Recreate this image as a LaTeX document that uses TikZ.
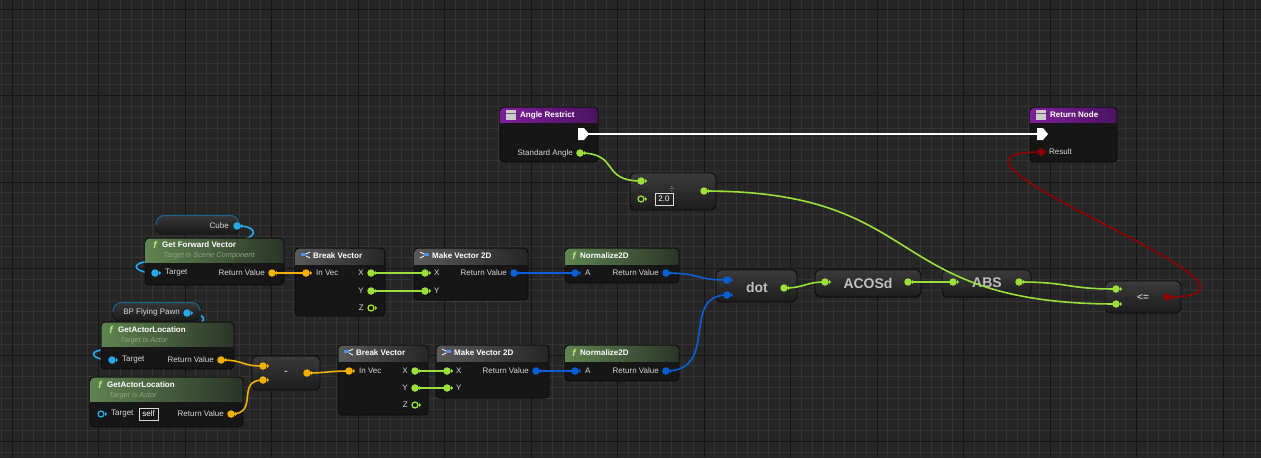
\documentclass[tikz,border=0pt]{standalone}
\usepackage{fontspec}
\setmainfont{Liberation Sans}
\usetikzlibrary{calc}
\definecolor{bg}{HTML}{262626}
\definecolor{gminor}{HTML}{343434}
\definecolor{gmajor}{HTML}{151515}
\definecolor{body}{HTML}{161616}
\definecolor{edge}{HTML}{0A0A0A}
\definecolor{pgreen}{HTML}{9BE03A}
\definecolor{pblue}{HTML}{0B5FD6}
\definecolor{porange}{HTML}{F2B100}
\definecolor{pred}{HTML}{8E0000}
\definecolor{pcyan}{HTML}{29A8E8}
\definecolor{txt}{HTML}{D8D8D8}
\definecolor{sub}{HTML}{8DA37F}
\definecolor{grL}{HTML}{5F8451}
\definecolor{grR}{HTML}{2B3528}
\definecolor{puL}{HTML}{7E1F99}
\definecolor{puR}{HTML}{4A1260}
\tikzset{
  pinf/.style={circle,fill=#1,inner sep=0pt,minimum size=7.5pt},
  pinh/.style={circle,draw=#1,line width=1.3pt,inner sep=0pt,minimum size=6pt},
  wire/.style={draw=#1,line width=1.6pt},
  lbl/.style={text=txt,font=\fontsize{8}{9}\selectfont,inner sep=0pt},
  ttl/.style={text=white,font=\bfseries\fontsize{8}{9}\selectfont,inner sep=0pt,anchor=west},
  subt/.style={text=sub,font=\itshape\fontsize{7.4}{8}\selectfont,inner sep=0pt,anchor=west},
  big/.style={text=white!75!black,font=\bfseries\fontsize{14}{15}\selectfont,inner sep=0pt},
}
\newcommand\bpbox[4]{\fill[body,draw=edge,line width=0.8pt,rounded corners=4pt] (#1,#2) rectangle (#3,#4);}
\newcommand\bphead[6]{\shade[left color=#5,right color=#6,rounded corners=4pt] (#1+0.5,#2+0.5) rectangle (#3-0.5,#4+4);
  \fill[body] (#1+0.5,#4) rectangle (#3-0.5,#4+4.5);}
\newcommand\cbox[4]{\shade[top color=white!23!black,bottom color=white!11!black,draw=edge,line width=0.8pt,rounded corners=5pt] (#1,#2) rectangle (#3,#4);}
\newcommand\pin[4]{\node[pinf=#4] (#1) at (#2,#3) {};\fill[#4] (#2+4,#3-2.2) -- (#2+6.2,#3) -- (#2+4,#3+2.2) -- cycle;}
\newcommand\hpin[4]{\node[pinh=#4] (#1) at (#2,#3) {};\fill[#4] (#2+4,#3-2.2) -- (#2+6.2,#3) -- (#2+4,#3+2.2) -- cycle;}
\newcommand\fsym[2]{\node[text=pgreen!70!white,font=\itshape\bfseries\fontsize{10}{10}\selectfont,inner sep=0pt] at (#1,#2) {f};}
\begin{document}
\begin{tikzpicture}[x=1pt,y=-1pt]
\fill[bg] (0,0) rectangle (1261,458);
\useasboundingbox (0,0) rectangle (1261,458);
\foreach \i in {-1,...,116} {\draw[gminor,line width=0.8pt] (12+\i*10.8125,0) -- (12+\i*10.8125,458);}
\foreach \i in {-1,...,42} {\draw[gminor,line width=0.8pt] (0,9+\i*10.8125) -- (1261,9+\i*10.8125);}
\foreach \i in {0,...,14} {\draw[gmajor,line width=0.9pt] (12+\i*86.5,0) -- (12+\i*86.5,458);}
\foreach \i in {0,...,5} {\draw[gmajor,line width=0.9pt] (0,9+\i*86.5) -- (1261,9+\i*86.5);}

\coordinate (cubeP) at (237,226);
\coordinate (gfvT) at (155,273);
\coordinate (pawnP) at (187,313);
\coordinate (gal1T) at (112,360);
\draw[wire=pcyan] (cubeP) .. controls (262,226) and (255,240) .. (238,240);
\draw[wire=pcyan] (145,262) .. controls (130,264) and (135,273) .. (gfvT);
\draw[wire=pcyan] (pawnP) .. controls (212,313) and (205,326) .. (190,326);
\draw[wire=pcyan] (101,350) .. controls (88,352) and (92,360) .. (gal1T);

% Angle Restrict
\bpbox{500}{107}{598}{162}\bphead{500}{107}{598}{123}{puL}{puR}
\fill[white!80!black] (506,110) rectangle (516,120);\draw[black!60] (506,113)--(516,113);
\node[ttl] (arT) at (520,115) {Angle Restrict};
\fill[white] (578,128) -- (584,128) -- (589,134) -- (584,140) -- (578,140) -- cycle;
\coordinate (arExec) at (586,134);
\node[lbl,anchor=east] (arSA) at (573,153) {Standard Angle};
% Return Node
\bpbox{1030}{107}{1117}{162}\bphead{1030}{107}{1117}{123}{puL}{puR}
\fill[white!80!black] (1036,110) rectangle (1046,120);\draw[black!60] (1036,113)--(1046,113);
\node[ttl] (rnT) at (1050,115) {Return Node};
\fill[white] (1037,128) -- (1043,128) -- (1048,134) -- (1043,140) -- (1037,140) -- cycle;
\coordinate (rnExec) at (1038,134);
\node[lbl,anchor=west] (rnR) at (1049,152) {Result};
% divide
\cbox{630}{173}{716}{210}
\draw[white!85!black,line width=0.7pt] (655,193) rectangle (673,205);
\node[lbl,text=white] (two) at (664,199) {2.0};
\node[text=white!70!black,font=\fontsize{9}{9}\selectfont,inner sep=0pt] (divs) at (672,189) {$\div$};
% Cube
\shade[top color=white!22!black,bottom color=white!10!black,draw=edge,rounded corners=8pt] (155,215) rectangle (240,234);
\draw[pcyan!60!black,line width=1pt,rounded corners=8pt] (156,225) -- (156,215.5) -- (239,215.5) -- (239,222);
\node[lbl,anchor=east] (cubeL) at (229,226) {Cube};
% BP Flying Pawn
\shade[top color=white!22!black,bottom color=white!10!black,draw=edge,rounded corners=8pt] (112,302) rectangle (201,321);
\draw[pcyan!60!black,line width=1pt,rounded corners=8pt] (113,312) -- (113,302.5) -- (200,302.5) -- (200,309);
\node[lbl,anchor=east] (pawnL) at (180,312) {BP Flying Pawn};
% Get Forward Vector
\bpbox{145}{238}{284}{285}\bphead{145}{238}{284}{263}{grL}{grR}
\fsym{155}{245}\node[ttl] (gfvN) at (162,245) {Get Forward Vector};
\node[subt] (gfvS) at (163,256) {Target is Scene Component};
\node[lbl,anchor=west] (gfvTL) at (165,273) {Target};
\node[lbl,anchor=east] (gfvRL) at (265,273) {Return Value};
% Break Vector 1
\bpbox{295}{248}{385}{316}\bphead{295}{248}{385}{265}{white!35!black}{white!15!black}
\fill[pblue!70!white] (301,253) rectangle (306,256);\draw[white,line width=0.7pt] (306,254)--(310,252) (306,256)--(310,258);
\node[ttl] (bv1N) at (313,256) {Break Vector};
\node[lbl,anchor=west] (bv1I) at (316,273) {In Vec};
\node[lbl,anchor=east] (bv1X) at (364,273) {X};
\node[lbl,anchor=east] (bv1Y) at (364,291) {Y};
\node[lbl,anchor=east] (bv1Z) at (364,308) {Z};
% Make Vector 2D 1
\bpbox{414}{248}{528}{300}\bphead{414}{248}{528}{265}{white!35!black}{white!15!black}
\fill[pblue!70!white] (424,253) rectangle (429,256);\draw[white,line width=0.7pt] (420,252)--(424,254) (420,258)--(424,256);
\node[ttl] (mv1N) at (432,256) {Make Vector 2D};
\node[lbl,anchor=west] (mv1XL) at (434,273) {X};
\node[lbl,anchor=west] (mv1YL) at (434,291) {Y};
\node[lbl,anchor=east] (mv1R) at (507,273) {Return Value};
% Normalize2D 1
\bpbox{565}{248}{679}{283}\bphead{565}{248}{679}{265}{grL}{grR}
\fsym{574}{256}\node[ttl] (n1N) at (580,256) {Normalize2D};
\node[lbl,anchor=west] (n1A) at (585,273) {A};
\node[lbl,anchor=east] (n1R) at (659,273) {Return Value};
% GetActorLocation 1
\bpbox{101}{322}{234}{369}\bphead{101}{322}{234}{347}{grL}{grR}
\fsym{111}{330}\node[ttl] (g1N) at (118,330) {GetActorLocation};
\node[subt] (g1S) at (120,341) {Target is Actor};
\node[lbl,anchor=west] (g1TL) at (122,360) {Target};
\node[lbl,anchor=east] (g1RL) at (214,360) {Return Value};
% GetActorLocation 2
\bpbox{90}{377}{243}{427}\bphead{90}{377}{243}{402}{grL}{grR}
\fsym{100}{385}\node[ttl] (g2N) at (107,385) {GetActorLocation};
\node[subt] (g2S) at (109,396) {Target is Actor};
\node[lbl,anchor=west] (g2TL) at (111,414) {Target};
\draw[white!85!black,line width=0.7pt] (139,408) rectangle (158,420);
\node[lbl,text=white] (selfL) at (148.5,414) {self};
\node[lbl,anchor=east] (g2RL) at (224,414) {Return Value};
% minus
\cbox{252}{356}{320}{390}
\node[big,font=\bfseries\fontsize{10}{10}\selectfont] (minusL) at (286,373) {-};
% Break Vector 2
\bpbox{338}{345}{428}{415}\bphead{338}{345}{428}{362}{white!35!black}{white!15!black}
\fill[pblue!70!white] (344,350) rectangle (349,353);\draw[white,line width=0.7pt] (349,351)--(353,349) (349,353)--(353,355);
\node[ttl] (bv2N) at (356,353) {Break Vector};
\node[lbl,anchor=west] (bv2I) at (359,371) {In Vec};
\node[lbl,anchor=east] (bv2X) at (408,371) {X};
\node[lbl,anchor=east] (bv2Y) at (408,388) {Y};
\node[lbl,anchor=east] (bv2Z) at (408,405) {Z};
% Make Vector 2D 2
\bpbox{436}{345}{549}{398}\bphead{436}{345}{549}{362}{white!35!black}{white!15!black}
\fill[pblue!70!white] (446,350) rectangle (451,353);\draw[white,line width=0.7pt] (442,349)--(446,351) (442,355)--(446,353);
\node[ttl] (mv2N) at (454,353) {Make Vector 2D};
\node[lbl,anchor=west] (mv2XL) at (456,371) {X};
\node[lbl,anchor=west] (mv2YL) at (456,388) {Y};
\node[lbl,anchor=east] (mv2R) at (529,371) {Return Value};
% Normalize2D 2
\bpbox{565}{345}{679}{381}\bphead{565}{345}{679}{362}{grL}{grR}
\fsym{574}{353}\node[ttl] (n2N) at (580,353) {Normalize2D};
\node[lbl,anchor=west] (n2A) at (585,371) {A};
\node[lbl,anchor=east] (n2R) at (659,371) {Return Value};
% dot, ACOSd, ABS, <=
\cbox{716}{270}{797}{302}\node[big] (dotL) at (757,287) {dot};
\cbox{815}{270}{921}{297}\node[big] (acosL) at (868,283) {ACOSd};
\cbox{942}{270}{1031}{297}\node[big] (absL) at (987,283) {ABS};
\cbox{1105}{281}{1181}{313}\node[big,font=\bfseries\fontsize{10}{10}\selectfont] (leL) at (1143,297) {<=};

% wires
\coordinate (w_ar) at (580,153);
\coordinate (w_divA) at (641,181);
\coordinate (w_divO) at (704,191);
\coordinate (w_leA) at (1116,289);
\coordinate (w_leB) at (1116,304);
\coordinate (w_leO) at (1167,297);
\coordinate (w_res) at (1041,152);
\draw[white,line width=2.4pt] (arExec) -- (rnExec);
\draw[wire=pgreen] (w_ar) .. controls (620,153) and (600,181) .. (w_divA);
\draw[wire=porange] (272,273) -- (306,273);
\draw[wire=pgreen] (371,273) -- (425,273);
\draw[wire=pgreen] (371,291) -- (425,291);
\draw[wire=pblue] (514,273) -- (575,273);
\draw[wire=pblue] (666,273) .. controls (700,273) and (695,280) .. (727,280);
\draw[wire=pblue] (666,371) .. controls (720,371) and (680,295) .. (727,295);
\draw[wire=pgreen] (784,288) .. controls (805,288) and (805,282) .. (825,282);
\draw[wire=pgreen] (908,282) -- (953,282);
\draw[wire=porange] (221,360) .. controls (245,360) and (240,366) .. (263,366);
\draw[wire=porange] (231,414) .. controls (260,414) and (235,380) .. (263,380);
\draw[wire=porange] (307,373) .. controls (325,373) and (330,371) .. (349,371);
\draw[wire=pgreen] (415,371) -- (447,371);
\draw[wire=pgreen] (415,388) -- (447,388);
\draw[wire=pblue] (536,371) -- (575,371);
\draw[wire=pgreen] (1019,282) .. controls (1070,282) and (1065,289) .. (w_leA);
\draw[wire=pgreen] (w_divO) .. controls (930,191) and (880,304) .. (w_leB);
\draw[wire=pred] (w_leO) .. controls (1320,297) and (890,152) .. (w_res);

% pins
\pin{pAR}{580}{153}{pgreen}
\pin{pRes}{1041}{152}{pred}
\pin{pDivA}{641}{181}{pgreen}
\hpin{pDivB}{641}{199}{pgreen}
\pin{pDivO}{704}{191}{pgreen}
\pin{pCube}{237}{226}{pcyan}
\pin{pPawn}{187}{313}{pcyan}
\pin{pGfvT}{155}{273}{pcyan}
\pin{pGfvR}{272}{273}{porange}
\pin{pBv1I}{306}{273}{porange}
\pin{pBv1X}{371}{273}{pgreen}
\pin{pBv1Y}{371}{291}{pgreen}
\hpin{pBv1Z}{371}{308}{pgreen}
\pin{pMv1X}{425}{273}{pgreen}
\pin{pMv1Y}{425}{291}{pgreen}
\pin{pMv1R}{514}{273}{pblue}
\pin{pN1A}{575}{273}{pblue}
\pin{pN1R}{666}{273}{pblue}
\pin{pG1T}{112}{360}{pcyan}
\pin{pG1R}{221}{360}{porange}
\hpin{pG2T}{101}{414}{pcyan}
\pin{pG2R}{231}{414}{porange}
\pin{pMiA}{263}{366}{porange}
\pin{pMiB}{263}{380}{porange}
\pin{pMiO}{307}{373}{porange}
\pin{pBv2I}{349}{371}{porange}
\pin{pBv2X}{415}{371}{pgreen}
\pin{pBv2Y}{415}{388}{pgreen}
\hpin{pBv2Z}{415}{405}{pgreen}
\pin{pMv2X}{447}{371}{pgreen}
\pin{pMv2Y}{447}{388}{pgreen}
\pin{pMv2R}{536}{371}{pblue}
\pin{pN2A}{575}{371}{pblue}
\pin{pN2R}{666}{371}{pblue}
\pin{pDotA}{727}{280}{pblue}
\pin{pDotB}{727}{295}{pblue}
\pin{pDotO}{784}{288}{pgreen}
\pin{pAcI}{825}{282}{pgreen}
\pin{pAcO}{908}{282}{pgreen}
\pin{pAbI}{953}{282}{pgreen}
\pin{pAbO}{1019}{282}{pgreen}
\pin{pLeA}{1116}{289}{pgreen}
\pin{pLeB}{1116}{304}{pgreen}
\pin{pLeO}{1167}{297}{pred}
\end{tikzpicture}
\end{document}
